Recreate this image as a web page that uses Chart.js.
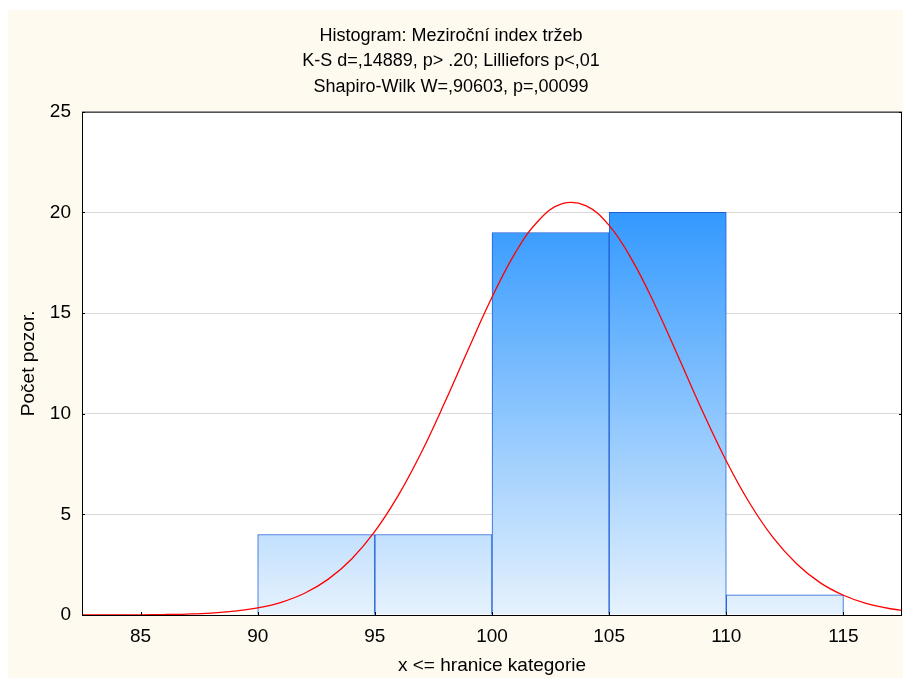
<!DOCTYPE html>
<html>
  <head>
    <meta charset="UTF-8" />
    <title>Histogram</title>
    <script src="https://cdn.jsdelivr.net/npm/chart.js@4.4.1/dist/chart.umd.min.js"></script>
    <style>
      html, body { margin: 0; padding: 0; background: #fff; }
      #wrap { width: 903px; height: 682px; }
    </style>
  </head>
  <body>
    <div id="wrap"><canvas id="chart"></canvas></div>
    <script>
      // histogram classes (centers) and counts
      const binCenters = [92.5, 97.5, 102.5, 107.5, 112.5];
      const binCounts = [4, 4, 19, 20, 1];

      // expected normal curve
      const curveX = [82, 83, 84, 85, 86, 87, 88, 89, 90, 91, 92, 93, 94, 95, 96, 97, 98, 99, 100,
        101, 102, 103, 104, 105, 106, 107, 108, 109, 110, 111, 112, 113, 114, 115, 116, 117, 118];
      const curveY = [0.001, 0.002, 0.004, 0.01, 0.022, 0.047, 0.096, 0.19, 0.35, 0.63, 1.08, 1.77,
        2.77, 4.15, 5.94, 8.11, 10.6, 13.23, 15.78, 18.0, 19.61, 20.43, 20.33, 19.35, 17.59, 15.29,
        12.7, 10.08, 7.65, 5.55, 3.84, 2.55, 1.61, 0.98, 0.56, 0.31, 0.17];

      const xTicks = [85, 90, 95, 100, 105, 110, 115];
      const titleLines = [
        'Histogram: Meziroční index tržeb',
        'K-S d=,14889, p> .20; Lilliefors p<,01',
        'Shapiro-Wilk W=,90603, p=,00099'
      ];

      const FONT = 'Liberation Sans, Arial, sans-serif';

      const bgPlugin = {
        id: 'bg',
        beforeDraw(chart) {
          const { ctx, chartArea: a } = chart;
          ctx.save();
          ctx.fillStyle = '#fefaf0';
          ctx.fillRect(8, 10, chart.width - 8, 668);
          ctx.fillStyle = '#ffffff';
          ctx.fillRect(a.left, a.top, a.right - a.left, a.bottom - a.top);
          ctx.restore();
        },
        afterDraw(chart) {
          const { ctx, chartArea: a, scales } = chart;
          ctx.save();
          ctx.strokeStyle = '#000';
          ctx.lineWidth = 1;
          ctx.strokeRect(a.left + 0.5, a.top + 0.5, a.right - a.left - 1, a.bottom - a.top);
          ctx.beginPath();
          // small inward ticks
          xTicks.forEach(v => {
            const px = Math.round(scales.x.getPixelForValue(v)) + 0.5;
            ctx.moveTo(px, a.bottom);
            ctx.lineTo(px, a.bottom - 3);
          });
          [0, 5, 10, 15, 20, 25].forEach(v => {
            const py = Math.round(scales.y.getPixelForValue(v)) + 0.5;
            ctx.moveTo(a.left, py);
            ctx.lineTo(a.left + 3, py);
            ctx.moveTo(a.right, py);
            ctx.lineTo(a.right - 3, py);
          });
          ctx.stroke();
          ctx.restore();
        }
      };

      function barFill(context) {
        const chart = context.chart;
        const a = chart.chartArea;
        if (!a) return '#7fbfff';
        const y = chart.scales.y;
        const g = chart.ctx.createLinearGradient(0, y.getPixelForValue(0), 0, y.getPixelForValue(20));
        g.addColorStop(0, '#e6f2fd');
        g.addColorStop(1, '#3399ff');
        return g;
      }

      new Chart(document.getElementById('chart'), {
        data: {
          datasets: [
            {
              type: 'line',
              data: curveX.map((x, i) => ({ x: x, y: curveY[i] })),
              borderColor: '#ff0000',
              borderWidth: 1.3,
              pointRadius: 0,
              tension: 0.4,
              fill: false,
              order: 0
            },
            {
              type: 'bar',
              data: binCenters.map((x, i) => ({ x: x, y: binCounts[i] })),
              backgroundColor: barFill,
              borderColor: '#1f5fd6',
              borderWidth: 1,
              borderSkipped: 'bottom',
              barPercentage: 1,
              categoryPercentage: 1,
              order: 1
            }
          ]
        },
        options: {
          responsive: true,
          maintainAspectRatio: false,
          animation: false,
          layout: { padding: { left: 0, right: 1, top: 0, bottom: 0 } },
          plugins: {
            legend: { display: false },
            tooltip: { enabled: false },
            title: {
              display: true,
              text: titleLines,
              color: '#000',
              font: { family: FONT, size: 18, weight: 'normal', lineHeight: 1.42 },
              padding: { top: 23, bottom: 12 }
            }
          },
          scales: {
            x: {
              type: 'linear',
              min: 82.5,
              max: 117.5,
              offset: false,
              afterBuildTicks(s) { s.ticks = xTicks.map(v => ({ value: v })); },
              afterFit(s) { s.height = 67; },
              grid: { display: false, drawTicks: false, offset: false },
              border: { display: false },
              ticks: { color: '#000', padding: 10, font: { family: FONT, size: 19 }, maxRotation: 0 },
              title: {
                display: true,
                text: 'x <= hranice kategorie',
                color: '#000',
                font: { family: FONT, size: 19 },
                padding: { top: 0, bottom: 5 }
              }
            },
            y: {
              min: 0,
              max: 25,
              ticks: { stepSize: 5, color: '#000', padding: 11, font: { family: FONT, size: 19 } },
              afterFit(s) { s.width = 82; },
              grid: { color: '#d9d9d9', drawTicks: false },
              border: { display: false },
              title: {
                display: true,
                text: 'Počet pozor.',
                color: '#000',
                font: { family: FONT, size: 19 },
                padding: { top: 17, bottom: 0 }
              }
            }
          }
        },
        plugins: [bgPlugin]
      });
    </script>
  </body>
</html>
